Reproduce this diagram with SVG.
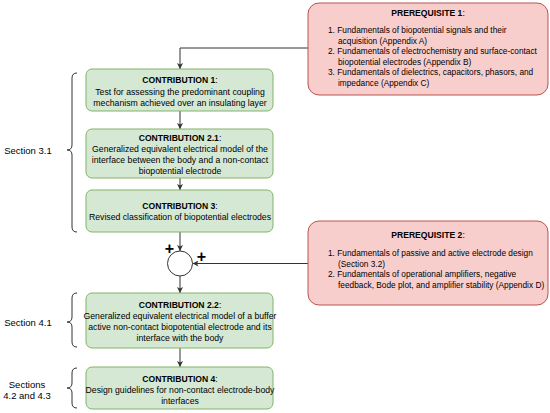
<svg xmlns="http://www.w3.org/2000/svg" width="550" height="413" viewBox="0 0 550 413">
<defs>
<marker id="ah" viewBox="0 0 10 10" refX="10" refY="5" markerWidth="6" markerHeight="6" orient="auto" markerUnits="userSpaceOnUse">
<path d="M0,0 L10,5 L0,10 L2.5,5 Z" fill="#333333"/>
</marker>
<style>
.g{fill:#d5e8d4;stroke:#82b366;stroke-width:1}
.r{fill:#f8cecc;stroke:#b85450;stroke-width:1}
text{font-family:"Liberation Sans",Arial,sans-serif;font-size:8.7px;fill:#000}
.p{font-size:8.3px}
.c{text-anchor:middle}
.b{font-weight:bold;font-size:8.6px}
.e{fill:none;stroke:#333333;stroke-width:1}
.br{fill:none;stroke:#333333;stroke-width:1}
.s{font-size:9.5px}
.pl{font-size:16px;font-weight:bold;text-anchor:middle}
</style>
</defs>
<rect width="550" height="413" fill="#ffffff"/>
<g id="connectors">
<path class="e" d="M308,48 H180 V69" marker-end="url(#ah)"/>
<path class="e" d="M180,111 V129" marker-end="url(#ah)"/>
<path class="e" d="M180,178 V190" marker-end="url(#ah)"/>
<path class="e" d="M180,232 V251" marker-end="url(#ah)"/>
<path class="e" d="M308,263.5 H192.5" marker-end="url(#ah)"/>
<path class="e" d="M180,276 V293" marker-end="url(#ah)"/>
<path class="e" d="M180,348 V367" marker-end="url(#ah)"/>
</g>
<g id="prereq1">
<rect class="r" x="308" y="3" width="240" height="92" rx="11"/>
<text class="c b" x="428" y="16">PREREQUISITE 1<tspan font-weight="normal">:</tspan></text>
<text class="p" x="328" y="33">1. Fundamentals of biopotential signals and their</text>
<text class="p" x="338" y="43.5">acquisition (Appendix A)</text>
<text class="p" x="328" y="54">2. Fundamentals of electrochemistry and surface-contact</text>
<text class="p" x="338" y="64.5">biopotential electrodes (Appendix B)</text>
<text class="p" x="328" y="75">3. Fundamentals of dielectrics, capacitors, phasors, and</text>
<text class="p" x="338" y="85.5">impedance (Appendix C)</text>
</g>
<g id="c1">
<rect class="g" x="86" y="69" width="187" height="42" rx="6"/>
<text class="c b" x="180" y="83">CONTRIBUTION 1<tspan font-weight="normal">:</tspan></text>
<text class="c" x="180" y="95">Test for assessing the predominant coupling</text>
<text class="c" x="180" y="106">mechanism achieved over an insulating layer</text>
</g>
<g id="c21">
<rect class="g" x="86" y="129" width="187" height="49" rx="6"/>
<text class="c b" x="180" y="141">CONTRIBUTION 2.1<tspan font-weight="normal">:</tspan></text>
<text class="c" x="180" y="152">Generalized equivalent electrical model of the</text>
<text class="c" x="180" y="163">interface between the body and a non-contact</text>
<text class="c" x="180" y="174">biopotential electrode</text>
</g>
<g id="c3">
<rect class="g" x="86" y="190" width="187" height="42" rx="6"/>
<text class="c b" x="180" y="209">CONTRIBUTION 3<tspan font-weight="normal">:</tspan></text>
<text class="c" x="180" y="220">Revised classification of biopotential electrodes</text>
</g>
<g id="sum">
<circle cx="180" cy="263.5" r="12.5" fill="#ffffff" stroke="#333333" stroke-width="1"/>
<text class="pl" x="169.5" y="253.5">+</text>
<text class="pl" x="201.5" y="262">+</text>
</g>
<g id="prereq2">
<rect class="r" x="308" y="221" width="240" height="84" rx="11"/>
<text class="c b" x="428" y="238">PREREQUISITE 2<tspan font-weight="normal">:</tspan></text>
<text class="p" x="328" y="256">1. Fundamentals of passive and active electrode design</text>
<text class="p" x="338" y="266.5">(Section 3.2)</text>
<text class="p" x="328" y="277">2. Fundamentals of operational amplifiers, negative</text>
<text class="p" x="338" y="287.5">feedback, Bode plot, and amplifier stability (Appendix D)</text>
</g>
<g id="c22">
<rect class="g" x="86" y="293" width="187" height="55" rx="6"/>
<text class="c b" x="180" y="308">CONTRIBUTION 2.2<tspan font-weight="normal">:</tspan></text>
<text class="c" x="180" y="319">Generalized equivalent electrical model of a buffer</text>
<text class="c" x="180" y="330">active non-contact biopotential electrode and its</text>
<text class="c" x="180" y="341">interface with the body</text>
</g>
<g id="c4">
<rect class="g" x="86" y="367" width="187" height="42" rx="6"/>
<text class="c b" x="180" y="382">CONTRIBUTION 4<tspan font-weight="normal">:</tspan></text>
<text class="c" x="180" y="393">Design guidelines for non-contact electrode-body</text>
<text class="c" x="180" y="404">interfaces</text>
</g>
<g id="section31">
<path class="br" d="M77,73 Q72,73 72,78 V145 Q72,150 67,150 Q72,150 72,155 V227 Q72,232 77,232"/>
<text class="c s" x="28" y="154">Section 3.1</text>
</g>
<g id="section41">
<path class="br" d="M77,293 Q72,293 72,298 V317 Q72,322 67,322 Q72,322 72,327 V342 Q72,347 77,347"/>
<text class="c s" x="28" y="326">Section 4.1</text>
</g>
<g id="section423">
<path class="br" d="M77,368 Q72,368 72,373 V383 Q72,388 67,388 Q72,388 72,393 V403 Q72,408 77,408"/>
<text class="c s" x="27" y="387.5">Sections</text>
<text class="c s" x="27" y="398.5">4.2 and 4.3</text>
</g>
</svg>
